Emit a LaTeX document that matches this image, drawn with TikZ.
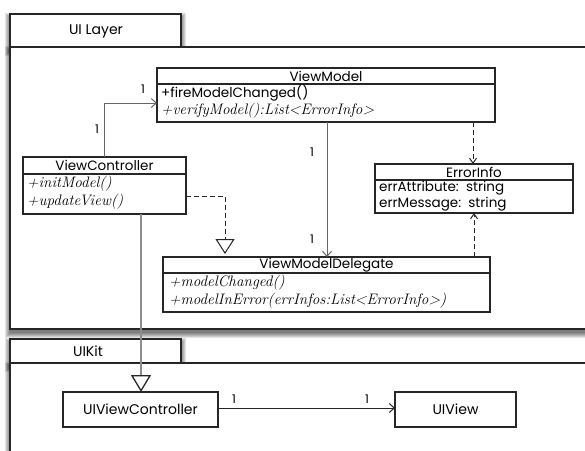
\documentclass[tikz,border=0pt]{standalone}
\usepackage{fontspec}
\newfontfamily\gothic{Poppins}
\usetikzlibrary{arrows.meta,calc}

\tikzset{
  pkgframe/.style={draw=black!85, line width=1.2pt, fill=white},
  shadowlayer/.style={fill=black, opacity=0.11},
  classbox/.style={draw=black!85, line width=1.1pt, fill=white, inner sep=0pt, outer sep=0pt,
    anchor=north west},
  plainbox/.style={draw=black!85, line width=1.1pt, fill=white, inner sep=0pt, outer sep=0pt,
    anchor=north west},
  pkgname/.style={font=\gothic\fontsize{14}{16}\selectfont, inner sep=0pt},
  hdr/.style={font=\gothic\fontsize{13.5}{15}\selectfont, inner sep=0pt},
  attr/.style={font=\gothic\fontsize{13.5}{15}\selectfont, inner sep=0pt, anchor=west},
  meth/.style={font=\itshape\fontsize{15.2}{17}\selectfont, inner sep=0pt, anchor=west},
  mult/.style={font=\gothic\fontsize{12}{14}\selectfont, inner sep=0pt},
  assoc/.style={draw=black!60, line width=1pt, -{Straight Barb[length=5pt,width=9pt]}},
  depend/.style={draw=black!85, line width=1pt, dashed, dash pattern=on 5pt off 3pt,
    -{Straight Barb[length=5pt,width=7pt]}},
  realize/.style={draw=black!85, line width=1pt, dashed, dash pattern=on 5pt off 3pt,
    -{Triangle[open,length=15pt,width=19pt,fill=white]}},
  inherit/.style={draw=black!45, line width=1.3pt,
    -{Triangle[open,length=17pt,width=20pt,fill=white,color=black!85]}},
  sepline/.style={draw=black!85, line width=1.1pt}
}

% soft shadow behind a package rectangle: stacked translucent layers
\newcommand\pkgshadow[4]{%
  \foreach \k in {0,...,5}{%
    \fill[shadowlayer] ({#1-5+\k},{#2-1+\k}) rectangle ({#3+5-\k},{#4+9-\k});
  }%
}

\begin{document}
\begin{tikzpicture}[x=1pt,y=-1pt]
\useasboundingbox (0,0) rectangle (585,450);

% ---- package UI Layer ----
\pkgshadow{10}{14}{181}{47}
\pkgshadow{10}{47}{620}{329}
\path[pkgframe] (10,47) rectangle (620,329);
\path[pkgframe] (10,14) rectangle (181,47);
\fill[white] (11,46) rectangle (180,48.5);
\draw[draw=black!85, line width=1.2pt] (10,47) -- (620,47);
\node[pkgname] (uilayer) at (96,31) {UI Layer};

% ---- package UIKit ----
\pkgshadow{10}{339}{181}{363}
\pkgshadow{10}{363}{620}{480}
\path[pkgframe] (10,363) rectangle (620,480);
\path[pkgframe] (10,339) rectangle (181,363);
\draw[draw=black!85, line width=1.2pt] (10,363) -- (620,363);
\node[pkgname] (uikit) at (88,351) {UIKit};

% ---- ViewModel ----
\node[classbox, minimum width=338pt, minimum height=54pt] (vm) at (157,68) {};
\draw[sepline] ($(vm.north west)+(0,16)$) -- ($(vm.north east)+(0,16)$);
\node[hdr] (vmname) at ($(vm.north)+(0,8)$) {ViewModel};
\node[attr] (vmfire) at ($(vm.north west)+(4,25)$) {+fireModelChanged()};
\node[meth] (vmverify) at ($(vm.north west)+(4,43)$) {+verifyModel():List<ErrorInfo>};

% ---- ViewController ----
\node[classbox, minimum width=163pt, minimum height=57pt] (vc) at (23,157) {};
\draw[sepline] ($(vc.north west)+(0,17)$) -- ($(vc.north east)+(0,17)$);
\node[hdr] (vcname) at ($(vc.north)+(0,8.5)$) {ViewController};
\node[meth] (vcinit) at ($(vc.north west)+(4,27)$) {+initModel()};
\node[meth] (vcupdate) at ($(vc.north west)+(4,45)$) {+updateView()};

% ---- ErrorInfo ----
\node[classbox, minimum width=198pt, minimum height=49pt] (ei) at (375,164) {};
\draw[sepline] ($(ei.north west)+(0,16)$) -- ($(ei.north east)+(0,16)$);
\node[hdr] (einame) at ($(ei.north)+(0,8)$) {ErrorInfo};
\node[attr] (eiattr) at ($(ei.north west)+(4,24.5)$) {errAttribute:\ \ string};
\node[attr] (eimsg) at ($(ei.north west)+(4,40.5)$) {errMessage:\ \ string};

% ---- ViewModelDelegate ----
\node[classbox, minimum width=327pt, minimum height=55pt] (vmd) at (163,257) {};
\draw[sepline] ($(vmd.north west)+(0,16)$) -- ($(vmd.north east)+(0,16)$);
\node[hdr] (vmdname) at ($(vmd.north)+(0,8)$) {ViewModelDelegate};
\node[meth] (vmdchanged) at ($(vmd.north west)+(6,26)$) {+modelChanged()};
\node[meth] (vmderror) at ($(vmd.north west)+(6,44)$) {+modelInError(errInfos:List<ErrorInfo>)};

% ---- UIViewController and UIView ----
\node[plainbox, minimum width=155pt, minimum height=35pt] (uivc) at (63,392) {};
\node[pkgname] (uivcname) at (uivc.center) {UIViewController};
\node[plainbox, minimum width=121pt, minimum height=35pt] (uiv) at (395,392) {};
\node[pkgname] (uivname) at (uiv.center) {UIView};

% ---- connectors ----
\coordinate (vcup) at ($(vc.north west)+(81,0)$);
\coordinate (vmin) at ($(vm.south west)+(0,-19)$);
\draw[assoc] (vcup) |- (vmin);
\node[mult] (m1) at (97,129) {1};
\node[mult] (m2) at (143,89) {1};

\coordinate (vmdown) at ($(vm.south west)+(170,0)$);
\coordinate (vmdtop) at ($(vmd.north west)+(164,0)$);
\draw[assoc] (vmdown) -- (vmdtop);
\node[mult] (m3) at (312,152) {1};
\node[mult] (m4) at (312,239) {1};

\coordinate (vmerr) at ($(vm.south west)+(316,0)$);
\coordinate (eitop) at (vmerr |- ei.north);
\draw[depend] (vmerr) -- (eitop);

\coordinate (vmdup) at ($(vmd.north west)+(311,0)$);
\coordinate (eibot) at (vmdup |- ei.south);
\draw[depend] (vmdup) -- (eibot);

\coordinate (vcright) at ($(vc.north east)+(0,39)$);
\coordinate (vmdreal) at ($(vmd.north west)+(62,-3)$);
\draw[realize] (vcright) -| (vmdreal);

\coordinate (vcdown) at ($(vc.south west)+(118,0)$);
\coordinate (uivctop) at (vcdown |- uivc.north);
\draw[inherit] (vcdown) -- (uivctop);

\draw[draw=black!85, line width=1pt, -{Straight Barb[length=5pt,width=9pt]}] (uivc.east |- 0,408) -- (uiv.west |- 0,408);
\node[mult] (m5) at (234,399) {1};
\node[mult] (m6) at (367,399) {1};
\end{tikzpicture}
\end{document}
